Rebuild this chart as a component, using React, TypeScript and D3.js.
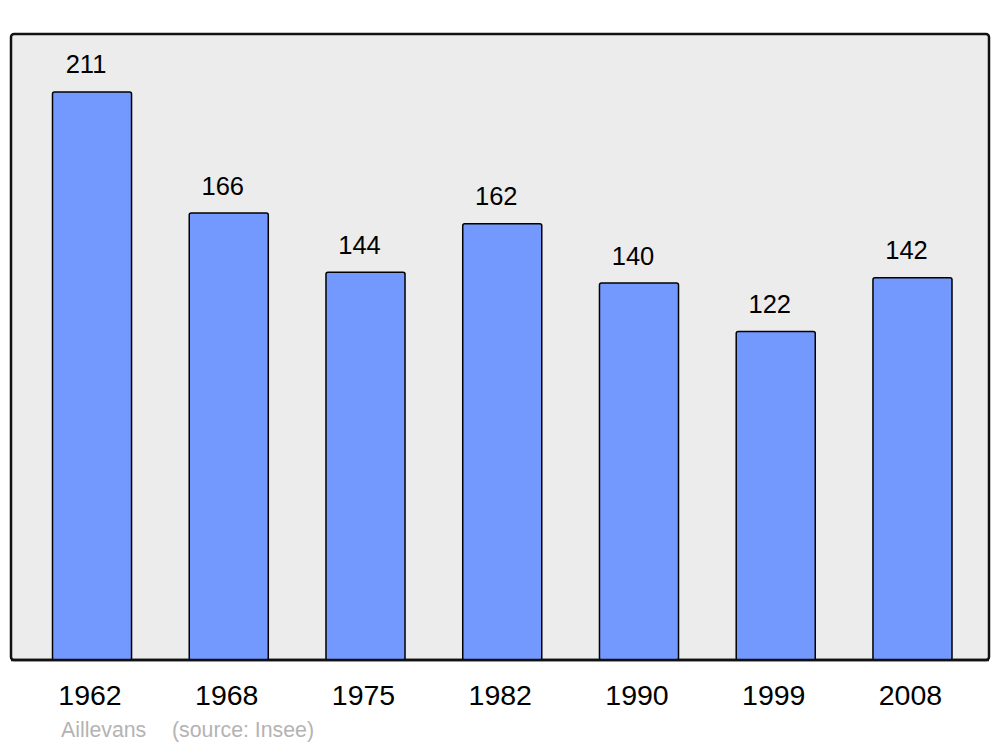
import React from "react";
import * as d3 from "d3";

const years = ["1962", "1968", "1975", "1982", "1990", "1999", "2008"];
const population = [211, 166, 144, 162, 140, 122, 142];
const townName = "Aillevans";
const sourceNote = "(source: Insee)";

const W = 1000;
const H = 747;
const frame = { x0: 11, y0: 34, x1: 989, y1: 660 };

export default function App() {
  const x = d3
    .scaleBand<string>()
    .domain(years)
    .range([52.5, 952])
    .paddingInner(0.422)
    .paddingOuter(0);
  const y = d3.scaleLinear().domain([0, 232.5]).range([frame.y1, frame.y0]);
  const font = "'Liberation Sans', Arial, sans-serif";

  return (
    <svg
      width={W}
      height={H}
      style={{ position: "absolute", left: 0, top: 0, background: "#fff" }}
      fontFamily={font}
    >
      <rect
        x={frame.x0}
        y={frame.y0}
        width={frame.x1 - frame.x0}
        height={frame.y1 - frame.y0}
        rx={3}
        fill="#ececec"
        stroke="#111"
        strokeWidth={2.5}
      />
      {years.map((yr, i) => {
        const v = population[i];
        const bx = x(yr)!;
        const bw = x.bandwidth();
        const cx = bx + bw / 2;
        return (
          <g key={yr}>
            <rect
              x={bx}
              y={y(v)}
              width={bw}
              height={y(0) - y(v)}
              rx={2}
              fill="#7399ff"
              stroke="#000"
              strokeWidth={1.5}
            />
            <text
              x={cx - 6}
              y={y(v) - 18.5}
              textAnchor="middle"
              fontSize={25.5}
              fill="#000"
            >
              {v}
            </text>
            <text x={cx - 2} y={705} textAnchor="middle" fontSize={28.5} fill="#000">
              {yr}
            </text>
          </g>
        );
      })}
      <line
        x1={frame.x0}
        x2={frame.x1}
        y1={frame.y1}
        y2={frame.y1}
        stroke="#111"
        strokeWidth={2.5}
      />
      <text x={61} y={737} fontSize={21.3} fill="#b3b3b3">
        {townName}
      </text>
      <text x={172} y={737} fontSize={21.3} fill="#b3b3b3">
        {sourceNote}
      </text>
    </svg>
  );
}
